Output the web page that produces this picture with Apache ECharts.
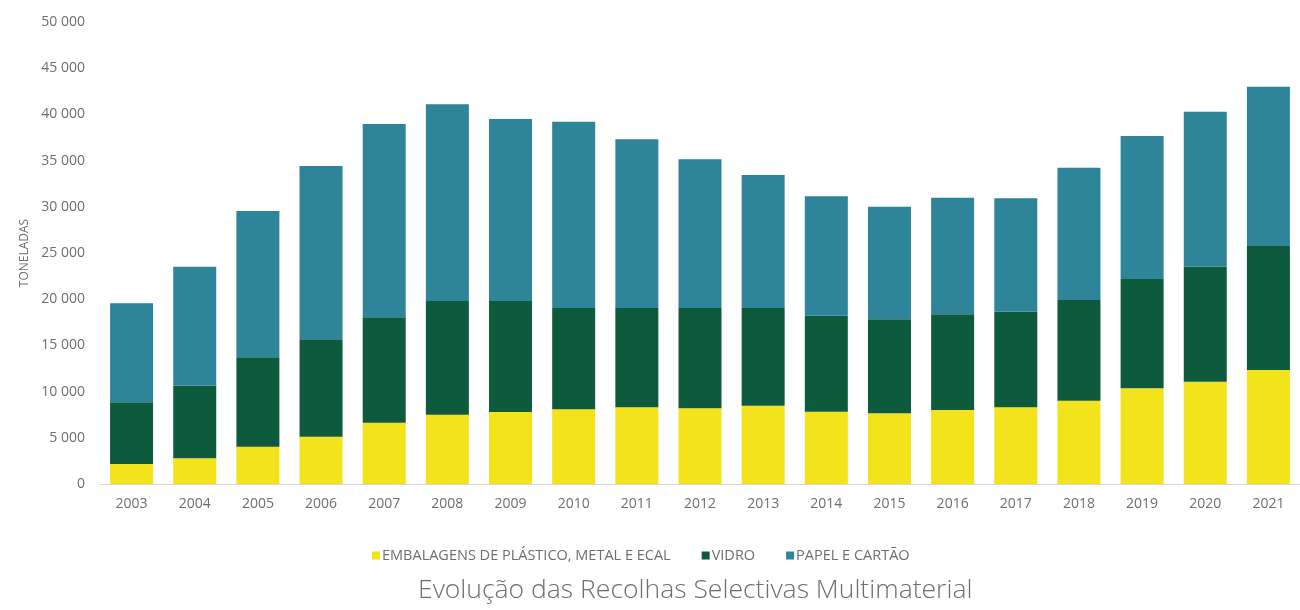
<!DOCTYPE html>
<html>
<head>
<meta charset="utf-8">
<script src="https://cdn.jsdelivr.net/npm/echarts@6/dist/echarts.min.js"></script>
<style>
  html, body { margin: 0; padding: 0; background: #fff; }
  #chart { width: 1300px; height: 610px; }
</style>
</head>
<body>
<div id="chart"></div>
<script>
// anos
const years = ['2003','2004','2005','2006','2007','2008','2009','2010','2011','2012',
  '2013','2014','2015','2016','2017','2018','2019','2020','2021'];
// toneladas por fluxo
const embalagens = [2160, 2780, 4040, 5120, 6640, 7500, 7790, 8080, 8300, 8190,
  8480, 7830, 7650, 8000, 8300, 9020, 10350, 11070, 12340];
const vidro = [6680, 7860, 9670, 10540, 11400, 12300, 12010, 10970, 10750, 10860,
  10570, 10390, 10190, 10360, 10350, 10880, 11840, 12450, 13420];
const papel = [10720, 12880, 15840, 18760, 20920, 21300, 19700, 20150, 18250, 16090,
  14390, 12910, 12160, 12630, 12270, 14330, 15470, 16770, 17240];
const seriesNames = ['EMBALAGENS DE PLÁSTICO, METAL E ECAL', 'VIDRO', 'PAPEL E CARTÃO'];
const colors = ['#F2E31B', '#0E5A3C', '#2E8499'];

const chart = echarts.init(document.getElementById('chart'));
const fmt = v => String(v).replace(/\B(?=(\d{3})+(?!\d))/g, ' ');

const mkSeries = (name, data, i) => ({
  name: name,
  type: 'bar',
  stack: 'total',
  data: data,
  barWidth: 43,
  itemStyle: { color: colors[i] }
});

chart.setOption({
  animation: false,
  textStyle: { fontFamily: 'Open Sans' },
  title: {
    text: 'Evolução das Recolhas Selectivas Multimaterial',
    left: 413,
    top: 572,
    textStyle: { fontSize: 26.5, fontWeight: 300, color: '#6e6e6e', fontFamily: 'Open Sans' }
  },
  legend: {
    data: seriesNames,
    left: 367,
    top: 543,
    icon: 'rect',
    itemWidth: 8,
    itemHeight: 8,
    itemGap: 31,
    textStyle: { fontSize: 14.5, color: '#6e6e6e', padding: [0, 0, 0, -3] }
  },
  grid: { left: 100, top: 22, width: 1206, height: 462 },
  xAxis: {
    type: 'category',
    data: years,
    axisLine: { lineStyle: { color: '#d9d9d9' } },
    axisTick: { show: false },
    axisLabel: { fontSize: 14, color: '#6e6e6e', margin: 13 }
  },
  yAxis: {
    type: 'value',
    min: 0,
    max: 50000,
    interval: 5000,
    name: 'TONELADAS',
    nameLocation: 'middle',
    nameGap: 69,
    nameTextStyle: { fontSize: 12, color: '#6e6e6e' },
    splitLine: { show: false },
    axisLine: { show: false },
    axisTick: { show: false },
    axisLabel: { fontSize: 14, color: '#6e6e6e', margin: 15, formatter: fmt }
  },
  series: [
    mkSeries(seriesNames[0], embalagens, 0),
    mkSeries(seriesNames[1], vidro, 1),
    mkSeries(seriesNames[2], papel, 2)
  ]
});
</script>
</body>
</html>
